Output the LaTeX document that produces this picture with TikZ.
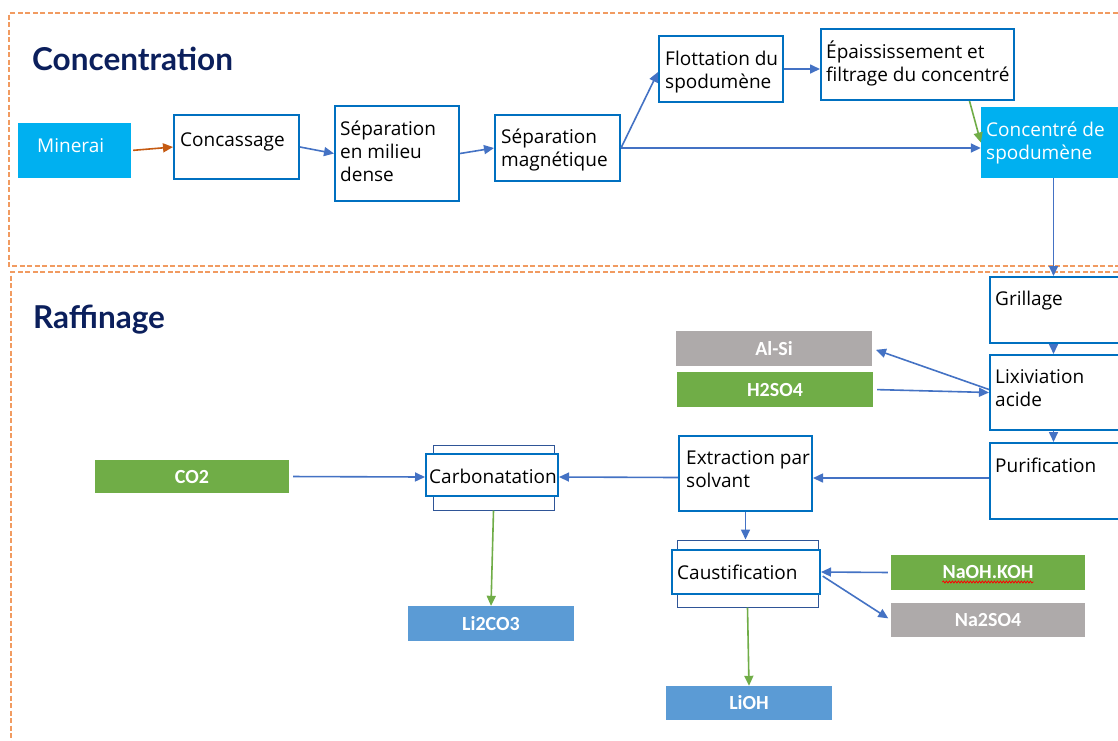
\documentclass[tikz,border=0pt]{standalone}
\usepackage{fontspec}
\setmainfont{Open Sans}
\newfontfamily\lblfont{Carlito}
\newfontfamily\titlefont{Lato}
\usetikzlibrary{fit,arrows.meta,decorations.pathmorphing}
\definecolor{cyanfill}{HTML}{00B0F0}
\definecolor{boxblue}{HTML}{0070C0}
\definecolor{arrowblue}{HTML}{4472C4}
\definecolor{orangearrow}{HTML}{C55A11}
\definecolor{greenfill}{HTML}{70AD47}
\definecolor{greyfill}{HTML}{AEAAAA}
\definecolor{bluefill}{HTML}{5B9BD5}
\definecolor{dashorange}{HTML}{F19B61}
\definecolor{frameblue}{HTML}{2F5597}
\definecolor{navy}{HTML}{0B1F5C}
\tikzset{
  procbox/.style={draw=boxblue, line width=2pt, fill=white, inner sep=0pt},
  framebox/.style={draw=frameblue, line width=1pt, fill=white, inner sep=0pt},
  lbltext/.style={inner sep=0pt, text=white, font=\lblfont\bfseries\fontsize{20}{22}\selectfont},
  fillbox/.style={inner sep=0pt},
  txt/.style={inner sep=0pt, align=left, anchor=base west, font=\fontsize{19}{23}\selectfont, text=black},
  wtxt/.style={txt, text=white},
  ttl/.style={inner sep=0pt, anchor=base west, text=navy, font=\titlefont\bfseries\fontsize{31.5}{34}\selectfont},
  flow/.style={draw=arrowblue, line width=1.6pt, -{Triangle[length=10pt,width=9pt]}},
  flowo/.style={flow, draw=orangearrow, -{Triangle[length=10pt,width=9pt,fill=orangearrow]}},
  flowg/.style={flow, draw=greenfill, -{Triangle[length=10pt,width=9pt,fill=greenfill]}},
  dashbox/.style={draw=dashorange, line width=1.5pt, dash pattern=on 5pt off 2.5pt},
}
\begin{document}
\begin{tikzpicture}[x=1pt,y=-1pt]
\useasboundingbox (0,0) rectangle (1118,740);
\clip (0,0) rectangle (1118,740);
\fill[white] (0,0) rectangle (1118,740);
% dashed frames
\draw[dashbox] (1140,13) -| (9,266) -- (1140,266);
\draw[dashbox] (1140,272) -| (11,760);
% titles
\node[ttl] (tconc) at (32,70) {Concentration};
\node[ttl] (traf) at (33,328) {Raffinage};
% concentration row
\node[fill=cyanfill, inner sep=0pt, fit={(18,123)(131,178)}] (miner) {};
\node[wtxt] (minerT) at (37,152) {Minerai};
\node[procbox, fit={(174,115)(299,179)}] (conc) {};
\node[txt] (concT) at (180,146) {Concassage};
\node[procbox, fit={(335,106)(459,201)}] (sepd) {};
\node[txt] (sepdT) at (340,181) {Séparation\\en milieu\\dense};
\node[procbox, fit={(495,115)(620,181)}] (sepm) {};
\node[txt] (sepmT) at (501,166) {Séparation\\magnétique};
\node[procbox, fit={(659,36)(783,102)}] (flot) {};
\node[txt] (flotT) at (665,88) {Flottation du\\spodumène};
\node[procbox, fit={(821,29)(1014,100)}] (epais) {};
\node[txt] (epaisT) at (826,81) {Épaississement et\\filtrage du concentré};
\node[fill=cyanfill, inner sep=0pt, fit={(981,107)(1130,178)}] (concsp) {};
\node[wtxt] (concspT) at (986,159) {Concentré de\\spodumène};
% raffinage column
\node[procbox, fit={(990,277)(1130,343)}] (grill) {};
\node[txt] (grillT) at (995,305) {Grillage};
\node[procbox, fit={(990,355)(1130,430)}] (lix) {};
\node[txt] (lixT) at (995,406) {Lixiviation\\acide};
\node[procbox, fit={(990,443)(1130,519)}] (purif) {};
\node[txt] (purifT) at (995,472) {Purification};
\node[fillbox, fill=greyfill, fit={(676,331)(872,366)}, label={[lbltext]center:Al-Si}] (alsi) {};
\node[fillbox, fill=greenfill, fit={(677,372)(873,407)}, label={[lbltext]center:H2SO4}] (h2so4) {};
\node[procbox, fit={(679,436)(812,511)}] (extr) {};
\node[txt] (extrT) at (686,487) {Extraction par\\solvant};
\node[framebox, fit={(433,445)(554,510)}] (carbo) {};
\node[procbox, fit={(426,454)(558,496)}] (carb) {};
\node[txt, anchor=base] (carbT) at (493,483) {Carbonatation};
\node[fillbox, fill=greenfill, fit={(95,460)(289,493)}, label={[lbltext]center:CO2}] (co2) {};
\node[fillbox, fill=bluefill, fit={(408,606)(574,641)}, label={[lbltext]center:Li2CO3}] (li2co3) {};
\node[framebox, fit={(677,540)(818,607)}] (causto) {};
\node[procbox, fit={(672,550)(820,594)}] (caust) {};
\node[txt] (caustT) at (677,579) {Caustification};
\node[fillbox, fill=greenfill, fit={(891,555)(1085,590)}] (naoh) {};
\node[lbltext, anchor=center] (naohT) at (naoh.center) {NaOH.KOH};
\draw[red, line width=0.8pt, decorate, decoration={snake, amplitude=1pt, segment length=3pt}]
  ([yshift=-3pt]naohT.base west) -- ([yshift=-3pt]naohT.base east);
\node[fillbox, fill=greyfill, fit={(891,603)(1085,637)}, label={[lbltext]center:Na2SO4}] (na2so4) {};
\node[fillbox, fill=bluefill, fit={(666,686)(832,720)}, label={[lbltext]center:LiOH}] (lioh) {};
% arrows
\draw[flowo, shorten <=2pt] (miner.east) -- (conc.west);
\draw[flow] (conc.east) -- (sepd.west);
\draw[flow] (sepd.east) -- (sepm.west);
\draw[flow] (sepm.east) -- ([yshift=-3pt]flot.west);
\draw[flow] (sepm.east) -- (sepm.east -| concsp.west);
\draw[flow] (flot.east) -- (flot.east -| epais.west);
\draw[flowg] ([xshift=52pt]epais.south) -- (concsp.west);
\draw[flow] ([xshift=-2pt]concsp.south) -- ([xshift=-2pt]concsp.south |- grill.north);
\draw[flow] ([xshift=-2pt]concsp.south |- grill.south) -- ([xshift=-2pt]concsp.south |- lix.north);
\draw[flow] ([xshift=-2pt]concsp.south |- lix.south) -- ([xshift=-2pt]concsp.south |- purif.north);
\draw[flow, shorten >=4pt] ([yshift=3pt]lix.west) -- (alsi.east);
\draw[flow, shorten <=4pt] (h2so4.east) -- (lix.west);
\draw[flow] ([yshift=3pt]purif.west) -- ([yshift=3pt]purif.west -| extr.east);
\draw[flow] ([yshift=-4pt]extr.west) -- ([yshift=-2pt]carb.east);
\draw[flow] (extr.south) -- (extr.south |- causto.north);
\draw[flow, shorten <=4pt] (co2.east) -- ([yshift=-2pt]carb.west);
\draw[flowg] (carbo.south) -- (li2co3.north);
\draw[flow, shorten <=3pt] (naoh.west) -- (caust.east);
\draw[flow, shorten <=2pt, shorten >=3pt] ([yshift=-3pt]caust.east) -- (na2so4.west);
\draw[flowg] (causto.south) -- (lioh.north);
\end{tikzpicture}
\end{document}
